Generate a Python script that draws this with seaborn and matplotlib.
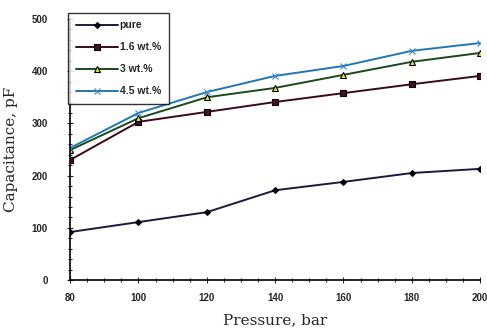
import matplotlib
matplotlib.use("Agg")
import matplotlib.pyplot as plt
import seaborn as sns
import pandas as pd
from matplotlib.ticker import MultipleLocator

pressure = [80, 100, 120, 140, 160, 180, 200]
pure = [92, 111, 130, 172, 188, 205, 213]
wt16 = [230, 303, 322, 341, 358, 375, 391]
wt3 = [249, 310, 350, 368, 393, 418, 435]
wt45 = [253, 320, 360, 391, 410, 439, 454]
series_names = ["pure", "1.6 wt.%", "3 wt.%", "4.5 wt.%"]

df = pd.DataFrame({
    "Pressure": pressure * 4,
    "Capacitance": pure + wt16 + wt3 + wt45,
    "Sample": sum([[n] * len(pressure) for n in series_names], []),
})

sns.set_style("ticks")
plt.rcParams["font.family"] = ["Liberation Sans", "DejaVu Sans"]

fig = plt.figure(figsize=(4.87, 3.33), dpi=100)
ax = fig.add_axes([0.144, 0.159, 0.842, 0.784])

line_colors = {"pure": "#1a1a40", "1.6 wt.%": "#3a0a1a", "3 wt.%": "#1a4a1a", "4.5 wt.%": "#1f78b4"}
markers = {"pure": "D", "1.6 wt.%": "s", "3 wt.%": "^", "4.5 wt.%": "x"}
mfc = {"pure": "black", "1.6 wt.%": "#4a0f1f", "3 wt.%": "#e8e830", "4.5 wt.%": "#3a8ac8"}
msz = {"pure": 3, "1.6 wt.%": 5, "3 wt.%": 4.5, "4.5 wt.%": 5}

for name in series_names:
    sub = df[df["Sample"] == name]
    sns.lineplot(data=sub, x="Pressure", y="Capacitance", ax=ax, color=line_colors[name],
                 marker=markers[name], markersize=msz[name], markerfacecolor=mfc[name],
                 markeredgecolor="black" if name != "4.5 wt.%" else "#3a8ac8",
                 markeredgewidth=0.8, linewidth=1.4, label=name)

ax.set_xlim(80, 200)
ax.set_ylim(0, 500)
ax.xaxis.set_major_locator(MultipleLocator(20))
ax.xaxis.set_minor_locator(MultipleLocator(5))
ax.yaxis.set_major_locator(MultipleLocator(100))
ax.yaxis.set_minor_locator(MultipleLocator(20))
ax.tick_params(axis="both", which="major", direction="inout", length=4, width=0.8,
               labelsize=7)
ax.tick_params(axis="y", which="major", pad=14)
ax.tick_params(axis="x", which="major", pad=7)
ax.tick_params(axis="both", which="minor", direction="inout", length=3, width=0.8)
for lab in ax.get_xticklabels() + ax.get_yticklabels():
    lab.set_fontweight("bold")
sns.despine(ax=ax)
for s in ["left", "bottom"]:
    ax.spines[s].set_linewidth(1.2)
    ax.spines[s].set_color("black")

ax.set_xlabel("Pressure, bar", family=["DejaVu Serif"], fontsize=11, labelpad=8)
ax.set_ylabel("Capacitance, pF", family=["DejaVu Serif"], fontsize=11, labelpad=10)

leg = ax.legend(loc="upper left", bbox_to_anchor=(0.14, 0.962), bbox_transform=fig.transFigure,
                frameon=True, fancybox=False, edgecolor="black",
                prop={"weight": "bold", "size": 7.5}, handlelength=4.0, labelspacing=1.15,
                borderpad=0.75, handletextpad=0.2, borderaxespad=0)
leg.get_frame().set_linewidth(1.0)

fig.savefig("out.png", dpi=100)
